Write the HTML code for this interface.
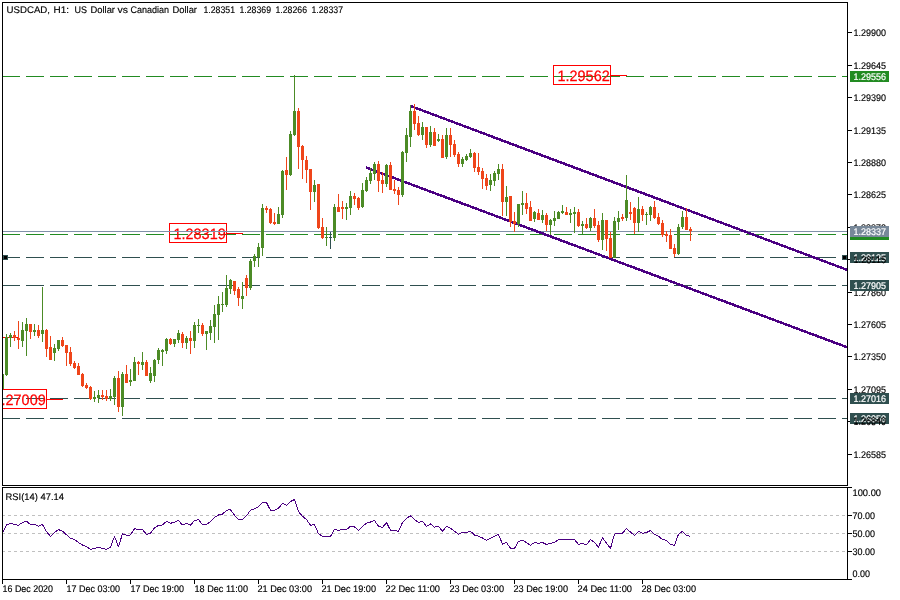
<!DOCTYPE html>
<html><head><meta charset="utf-8"><title>USDCAD H1</title>
<style>html,body{margin:0;padding:0;background:#fff;}body{width:900px;height:600px;overflow:hidden;font-family:"Liberation Sans",sans-serif;}</style>
</head><body>
<svg width="900" height="600" viewBox="0 0 900 600" style="display:block;will-change:transform;transform:translateZ(0)">
<rect x="0" y="0" width="900" height="600" fill="#ffffff"/>
<defs><clipPath id="cm"><rect x="3" y="3" width="844" height="482"/></clipPath><clipPath id="cr"><rect x="3" y="488" width="844" height="91"/></clipPath></defs>
<g shape-rendering="crispEdges">
<g clip-path="url(#cm)">
<line x1="2" y1="76.5" x2="848" y2="76.5" stroke="#228b22" stroke-width="1" stroke-dasharray="18 6"/>
<line x1="2" y1="234.5" x2="848" y2="234.5" stroke="#228b22" stroke-width="1" stroke-dasharray="18 6"/>
<line x1="2" y1="257.5" x2="848" y2="257.5" stroke="#2f4f4f" stroke-width="1" stroke-dasharray="18 6"/>
<line x1="2" y1="285.5" x2="848" y2="285.5" stroke="#2f4f4f" stroke-width="1" stroke-dasharray="18 6"/>
<line x1="2" y1="398.5" x2="848" y2="398.5" stroke="#2f4f4f" stroke-width="1" stroke-dasharray="18 6"/>
<line x1="2" y1="418.5" x2="848" y2="418.5" stroke="#2f4f4f" stroke-width="1" stroke-dasharray="18 6"/>
</g>
</g>
<g shape-rendering="crispEdges" clip-path="url(#cm)">
<rect x="169.5" y="223.5" width="57" height="19" fill="none" stroke="#ff0000" stroke-width="1"/>
<rect x="227" y="233" width="16" height="1" fill="#ff0000"/>
<rect x="553.5" y="65.5" width="57" height="19" fill="none" stroke="#ff0000" stroke-width="1"/>
<rect x="611" y="75" width="16" height="1" fill="#ff0000"/>
<rect x="-10.5" y="389.5" width="57" height="19" fill="none" stroke="#ff0000" stroke-width="1"/>
<rect x="47" y="399" width="16" height="1" fill="#ff0000"/>
<rect x="3" y="337" width="16" height="1" fill="#ff0000"/>
<rect x="3" y="255" width="5" height="5" fill="#2f4f4f"/>
<rect x="4" y="256" width="3" height="3" fill="#000"/>
<rect x="842" y="255" width="5" height="5" fill="#2f4f4f"/>
<rect x="843" y="256" width="3" height="3" fill="#000"/>
</g>
<g clip-path="url(#cm)" font-family="Liberation Sans, sans-serif" font-size="15" fill="#ff0000" stroke="#ff0000" stroke-width="0.25" style="text-rendering:geometricPrecision">
<text x="173.5" y="239" textLength="52.2" lengthAdjust="spacingAndGlyphs">1.28319</text>
<text x="557.5" y="81" textLength="52.2" lengthAdjust="spacingAndGlyphs">1.29562</text>
<text x="-6.5" y="405" textLength="52.2" lengthAdjust="spacingAndGlyphs">1.27009</text>
</g>
<g shape-rendering="crispEdges">
<g clip-path="url(#cm)">
<rect x="3" y="231" width="844" height="1" fill="#8090a8"/>
<g stroke="#4b0082" stroke-width="2.5" stroke-linecap="butt">
<line x1="411" y1="106.2" x2="848" y2="270.2"/>
<line x1="366" y1="167.5" x2="848" y2="347.6"/>
</g>
<rect x="3" y="374" width="1" height="15" fill="#4c8b26"/>
<rect x="6" y="334" width="1" height="42" fill="#4c8b26"/>
<rect x="5" y="337" width="3" height="38" fill="#4c8b26"/>
<rect x="10" y="333" width="1" height="14" fill="#4c8b26"/>
<rect x="9" y="335" width="3" height="3" fill="#4c8b26"/>
<rect x="14" y="331" width="1" height="10" fill="#ef451a"/>
<rect x="13" y="335" width="3" height="3" fill="#ef451a"/>
<rect x="18" y="321" width="1" height="28" fill="#ef451a"/>
<rect x="17" y="338" width="3" height="2" fill="#ef451a"/>
<rect x="22" y="322" width="1" height="25" fill="#4c8b26"/>
<rect x="21" y="330" width="3" height="11" fill="#4c8b26"/>
<rect x="26" y="318" width="1" height="38" fill="#4c8b26"/>
<rect x="25" y="324" width="3" height="7" fill="#4c8b26"/>
<rect x="30" y="324" width="1" height="15" fill="#ef451a"/>
<rect x="29" y="324" width="3" height="8" fill="#ef451a"/>
<rect x="34" y="324" width="1" height="12" fill="#4c8b26"/>
<rect x="33" y="330" width="3" height="2" fill="#4c8b26"/>
<rect x="38" y="325" width="1" height="13" fill="#ef451a"/>
<rect x="37" y="330" width="3" height="6" fill="#ef451a"/>
<rect x="42" y="287" width="1" height="55" fill="#4c8b26"/>
<rect x="41" y="330" width="3" height="4" fill="#4c8b26"/>
<rect x="46" y="329" width="1" height="28" fill="#ef451a"/>
<rect x="45" y="330" width="3" height="19" fill="#ef451a"/>
<rect x="50" y="336" width="1" height="24" fill="#ef451a"/>
<rect x="49" y="347" width="3" height="13" fill="#ef451a"/>
<rect x="54" y="344" width="1" height="17" fill="#4c8b26"/>
<rect x="53" y="348" width="3" height="5" fill="#4c8b26"/>
<rect x="58" y="340" width="1" height="11" fill="#4c8b26"/>
<rect x="57" y="340" width="3" height="9" fill="#4c8b26"/>
<rect x="62" y="337" width="1" height="10" fill="#ef451a"/>
<rect x="61" y="340" width="3" height="6" fill="#ef451a"/>
<rect x="66" y="345" width="1" height="21" fill="#ef451a"/>
<rect x="65" y="345" width="3" height="8" fill="#ef451a"/>
<rect x="70" y="347" width="1" height="19" fill="#ef451a"/>
<rect x="69" y="352" width="3" height="12" fill="#ef451a"/>
<rect x="74" y="361" width="1" height="8" fill="#ef451a"/>
<rect x="73" y="363" width="3" height="5" fill="#ef451a"/>
<rect x="78" y="363" width="1" height="12" fill="#ef451a"/>
<rect x="77" y="366" width="3" height="9" fill="#ef451a"/>
<rect x="82" y="373" width="1" height="14" fill="#ef451a"/>
<rect x="81" y="374" width="3" height="12" fill="#ef451a"/>
<rect x="86" y="383" width="1" height="6" fill="#ef451a"/>
<rect x="85" y="385" width="3" height="3" fill="#ef451a"/>
<rect x="90" y="386" width="1" height="14" fill="#ef451a"/>
<rect x="89" y="387" width="3" height="12" fill="#ef451a"/>
<rect x="94" y="391" width="1" height="11" fill="#4c8b26"/>
<rect x="93" y="397" width="3" height="2" fill="#4c8b26"/>
<rect x="98" y="390" width="1" height="13" fill="#4c8b26"/>
<rect x="97" y="395" width="3" height="3" fill="#4c8b26"/>
<rect x="102" y="390" width="1" height="10" fill="#ef451a"/>
<rect x="101" y="395" width="3" height="2" fill="#ef451a"/>
<rect x="106" y="390" width="1" height="11" fill="#ef451a"/>
<rect x="105" y="396" width="3" height="3" fill="#ef451a"/>
<rect x="110" y="389" width="1" height="12" fill="#4c8b26"/>
<rect x="109" y="396" width="3" height="3" fill="#4c8b26"/>
<rect x="114" y="376" width="1" height="29" fill="#4c8b26"/>
<rect x="113" y="378" width="3" height="19" fill="#4c8b26"/>
<rect x="118" y="371" width="1" height="41" fill="#ef451a"/>
<rect x="117" y="378" width="3" height="29" fill="#ef451a"/>
<rect x="122" y="372" width="1" height="44" fill="#4c8b26"/>
<rect x="121" y="374" width="3" height="33" fill="#4c8b26"/>
<rect x="126" y="365" width="1" height="18" fill="#ef451a"/>
<rect x="125" y="374" width="3" height="9" fill="#ef451a"/>
<rect x="130" y="369" width="1" height="17" fill="#4c8b26"/>
<rect x="129" y="380" width="3" height="2" fill="#4c8b26"/>
<rect x="134" y="357" width="1" height="24" fill="#4c8b26"/>
<rect x="133" y="362" width="3" height="19" fill="#4c8b26"/>
<rect x="138" y="361" width="1" height="14" fill="#ef451a"/>
<rect x="137" y="362" width="3" height="2" fill="#ef451a"/>
<rect x="142" y="352" width="1" height="18" fill="#4c8b26"/>
<rect x="141" y="362" width="3" height="3" fill="#4c8b26"/>
<rect x="146" y="360" width="1" height="16" fill="#ef451a"/>
<rect x="145" y="362" width="3" height="14" fill="#ef451a"/>
<rect x="150" y="367" width="1" height="16" fill="#4c8b26"/>
<rect x="149" y="373" width="3" height="8" fill="#4c8b26"/>
<rect x="154" y="359" width="1" height="23" fill="#4c8b26"/>
<rect x="153" y="360" width="3" height="16" fill="#4c8b26"/>
<rect x="158" y="348" width="1" height="16" fill="#4c8b26"/>
<rect x="157" y="350" width="3" height="10" fill="#4c8b26"/>
<rect x="162" y="349" width="1" height="17" fill="#4c8b26"/>
<rect x="161" y="350" width="3" height="2" fill="#4c8b26"/>
<rect x="166" y="338" width="1" height="16" fill="#4c8b26"/>
<rect x="165" y="339" width="3" height="12" fill="#4c8b26"/>
<rect x="170" y="338" width="1" height="7" fill="#ef451a"/>
<rect x="169" y="339" width="3" height="5" fill="#ef451a"/>
<rect x="174" y="339" width="1" height="8" fill="#4c8b26"/>
<rect x="173" y="339" width="3" height="5" fill="#4c8b26"/>
<rect x="178" y="330" width="1" height="13" fill="#4c8b26"/>
<rect x="177" y="333" width="3" height="7" fill="#4c8b26"/>
<rect x="182" y="332" width="1" height="16" fill="#ef451a"/>
<rect x="181" y="334" width="3" height="9" fill="#ef451a"/>
<rect x="186" y="336" width="1" height="13" fill="#4c8b26"/>
<rect x="185" y="338" width="3" height="5" fill="#4c8b26"/>
<rect x="190" y="331" width="1" height="23" fill="#ef451a"/>
<rect x="189" y="338" width="3" height="3" fill="#ef451a"/>
<rect x="194" y="322" width="1" height="26" fill="#4c8b26"/>
<rect x="193" y="325" width="3" height="16" fill="#4c8b26"/>
<rect x="198" y="319" width="1" height="14" fill="#4c8b26"/>
<rect x="197" y="325" width="3" height="1" fill="#4c8b26"/>
<rect x="202" y="323" width="1" height="13" fill="#ef451a"/>
<rect x="201" y="325" width="3" height="9" fill="#ef451a"/>
<rect x="206" y="331" width="1" height="19" fill="#4c8b26"/>
<rect x="205" y="331" width="3" height="3" fill="#4c8b26"/>
<rect x="210" y="320" width="1" height="20" fill="#4c8b26"/>
<rect x="209" y="326" width="3" height="7" fill="#4c8b26"/>
<rect x="214" y="305" width="1" height="38" fill="#4c8b26"/>
<rect x="213" y="314" width="3" height="13" fill="#4c8b26"/>
<rect x="218" y="296" width="1" height="44" fill="#4c8b26"/>
<rect x="217" y="304" width="3" height="11" fill="#4c8b26"/>
<rect x="222" y="292" width="1" height="20" fill="#4c8b26"/>
<rect x="221" y="304" width="3" height="1" fill="#4c8b26"/>
<rect x="226" y="275" width="1" height="32" fill="#4c8b26"/>
<rect x="225" y="288" width="3" height="17" fill="#4c8b26"/>
<rect x="230" y="279" width="1" height="15" fill="#4c8b26"/>
<rect x="229" y="280" width="3" height="9" fill="#4c8b26"/>
<rect x="234" y="281" width="1" height="14" fill="#ef451a"/>
<rect x="233" y="281" width="3" height="10" fill="#ef451a"/>
<rect x="238" y="287" width="1" height="19" fill="#ef451a"/>
<rect x="237" y="289" width="3" height="9" fill="#ef451a"/>
<rect x="242" y="282" width="1" height="27" fill="#4c8b26"/>
<rect x="241" y="296" width="3" height="3" fill="#4c8b26"/>
<rect x="246" y="275" width="1" height="21" fill="#ef451a"/>
<rect x="245" y="278" width="3" height="10" fill="#ef451a"/>
<rect x="250" y="259" width="1" height="31" fill="#4c8b26"/>
<rect x="249" y="261" width="3" height="27" fill="#4c8b26"/>
<rect x="254" y="254" width="1" height="13" fill="#4c8b26"/>
<rect x="253" y="256" width="3" height="5" fill="#4c8b26"/>
<rect x="258" y="243" width="1" height="24" fill="#4c8b26"/>
<rect x="257" y="247" width="3" height="10" fill="#4c8b26"/>
<rect x="262" y="204" width="1" height="52" fill="#4c8b26"/>
<rect x="261" y="208" width="3" height="40" fill="#4c8b26"/>
<rect x="266" y="206" width="1" height="7" fill="#ef451a"/>
<rect x="265" y="208" width="3" height="2" fill="#ef451a"/>
<rect x="270" y="208" width="1" height="16" fill="#ef451a"/>
<rect x="269" y="209" width="3" height="14" fill="#ef451a"/>
<rect x="274" y="213" width="1" height="12" fill="#ef451a"/>
<rect x="273" y="222" width="3" height="2" fill="#ef451a"/>
<rect x="278" y="207" width="1" height="17" fill="#4c8b26"/>
<rect x="277" y="214" width="3" height="10" fill="#4c8b26"/>
<rect x="282" y="170" width="1" height="48" fill="#4c8b26"/>
<rect x="281" y="171" width="3" height="44" fill="#4c8b26"/>
<rect x="286" y="157" width="1" height="33" fill="#ef451a"/>
<rect x="285" y="170" width="3" height="5" fill="#ef451a"/>
<rect x="290" y="131" width="1" height="45" fill="#4c8b26"/>
<rect x="289" y="134" width="3" height="41" fill="#4c8b26"/>
<rect x="294" y="75" width="1" height="61" fill="#4c8b26"/>
<rect x="293" y="111" width="3" height="24" fill="#4c8b26"/>
<rect x="298" y="108" width="1" height="61" fill="#ef451a"/>
<rect x="297" y="111" width="3" height="36" fill="#ef451a"/>
<rect x="302" y="145" width="1" height="34" fill="#ef451a"/>
<rect x="301" y="146" width="3" height="14" fill="#ef451a"/>
<rect x="306" y="156" width="1" height="27" fill="#ef451a"/>
<rect x="305" y="160" width="3" height="10" fill="#ef451a"/>
<rect x="310" y="169" width="1" height="41" fill="#ef451a"/>
<rect x="309" y="169" width="3" height="23" fill="#ef451a"/>
<rect x="314" y="180" width="1" height="22" fill="#4c8b26"/>
<rect x="313" y="185" width="3" height="7" fill="#4c8b26"/>
<rect x="318" y="184" width="1" height="45" fill="#ef451a"/>
<rect x="317" y="184" width="3" height="44" fill="#ef451a"/>
<rect x="322" y="218" width="1" height="21" fill="#ef451a"/>
<rect x="321" y="227" width="3" height="11" fill="#ef451a"/>
<rect x="326" y="227" width="1" height="19" fill="#4c8b26"/>
<rect x="325" y="237" width="3" height="1" fill="#4c8b26"/>
<rect x="330" y="232" width="1" height="17" fill="#2f4f4f"/>
<rect x="329" y="237" width="3" height="1" fill="#2f4f4f"/>
<rect x="334" y="204" width="1" height="37" fill="#4c8b26"/>
<rect x="333" y="207" width="3" height="31" fill="#4c8b26"/>
<rect x="338" y="194" width="1" height="18" fill="#ef451a"/>
<rect x="337" y="207" width="3" height="5" fill="#ef451a"/>
<rect x="342" y="201" width="1" height="18" fill="#ef451a"/>
<rect x="341" y="207" width="3" height="2" fill="#ef451a"/>
<rect x="346" y="203" width="1" height="17" fill="#4c8b26"/>
<rect x="345" y="207" width="3" height="2" fill="#4c8b26"/>
<rect x="350" y="191" width="1" height="24" fill="#4c8b26"/>
<rect x="349" y="196" width="3" height="12" fill="#4c8b26"/>
<rect x="354" y="193" width="1" height="12" fill="#ef451a"/>
<rect x="353" y="196" width="3" height="3" fill="#ef451a"/>
<rect x="358" y="197" width="1" height="13" fill="#ef451a"/>
<rect x="357" y="198" width="3" height="10" fill="#ef451a"/>
<rect x="362" y="183" width="1" height="25" fill="#4c8b26"/>
<rect x="361" y="190" width="3" height="17" fill="#4c8b26"/>
<rect x="366" y="177" width="1" height="15" fill="#4c8b26"/>
<rect x="365" y="180" width="3" height="11" fill="#4c8b26"/>
<rect x="370" y="168" width="1" height="16" fill="#4c8b26"/>
<rect x="369" y="173" width="3" height="8" fill="#4c8b26"/>
<rect x="374" y="162" width="1" height="18" fill="#4c8b26"/>
<rect x="373" y="164" width="3" height="10" fill="#4c8b26"/>
<rect x="378" y="161" width="1" height="31" fill="#ef451a"/>
<rect x="377" y="164" width="3" height="17" fill="#ef451a"/>
<rect x="382" y="172" width="1" height="21" fill="#ef451a"/>
<rect x="381" y="180" width="3" height="4" fill="#ef451a"/>
<rect x="386" y="164" width="1" height="23" fill="#4c8b26"/>
<rect x="385" y="165" width="3" height="19" fill="#4c8b26"/>
<rect x="390" y="162" width="1" height="28" fill="#ef451a"/>
<rect x="389" y="165" width="3" height="25" fill="#ef451a"/>
<rect x="394" y="180" width="1" height="14" fill="#ef451a"/>
<rect x="393" y="189" width="3" height="2" fill="#ef451a"/>
<rect x="398" y="187" width="1" height="18" fill="#ef451a"/>
<rect x="397" y="190" width="3" height="5" fill="#ef451a"/>
<rect x="402" y="151" width="1" height="46" fill="#4c8b26"/>
<rect x="401" y="152" width="3" height="43" fill="#4c8b26"/>
<rect x="406" y="128" width="1" height="34" fill="#4c8b26"/>
<rect x="405" y="135" width="3" height="18" fill="#4c8b26"/>
<rect x="410" y="105" width="1" height="42" fill="#4c8b26"/>
<rect x="409" y="111" width="3" height="26" fill="#4c8b26"/>
<rect x="414" y="104" width="1" height="26" fill="#ef451a"/>
<rect x="413" y="111" width="3" height="13" fill="#ef451a"/>
<rect x="418" y="116" width="1" height="20" fill="#ef451a"/>
<rect x="417" y="123" width="3" height="12" fill="#ef451a"/>
<rect x="422" y="122" width="1" height="18" fill="#4c8b26"/>
<rect x="421" y="127" width="3" height="8" fill="#4c8b26"/>
<rect x="426" y="127" width="1" height="21" fill="#ef451a"/>
<rect x="425" y="127" width="3" height="18" fill="#ef451a"/>
<rect x="430" y="126" width="1" height="21" fill="#4c8b26"/>
<rect x="429" y="132" width="3" height="13" fill="#4c8b26"/>
<rect x="434" y="128" width="1" height="18" fill="#ef451a"/>
<rect x="433" y="132" width="3" height="14" fill="#ef451a"/>
<rect x="438" y="134" width="1" height="8" fill="#4c8b26"/>
<rect x="437" y="139" width="3" height="2" fill="#4c8b26"/>
<rect x="442" y="135" width="1" height="23" fill="#ef451a"/>
<rect x="441" y="139" width="3" height="19" fill="#ef451a"/>
<rect x="446" y="128" width="1" height="31" fill="#4c8b26"/>
<rect x="445" y="135" width="3" height="22" fill="#4c8b26"/>
<rect x="450" y="128" width="1" height="29" fill="#ef451a"/>
<rect x="449" y="135" width="3" height="10" fill="#ef451a"/>
<rect x="454" y="140" width="1" height="17" fill="#ef451a"/>
<rect x="453" y="144" width="3" height="11" fill="#ef451a"/>
<rect x="458" y="152" width="1" height="15" fill="#ef451a"/>
<rect x="457" y="154" width="3" height="10" fill="#ef451a"/>
<rect x="462" y="157" width="1" height="10" fill="#4c8b26"/>
<rect x="461" y="159" width="3" height="5" fill="#4c8b26"/>
<rect x="466" y="154" width="1" height="7" fill="#4c8b26"/>
<rect x="465" y="156" width="3" height="4" fill="#4c8b26"/>
<rect x="470" y="149" width="1" height="9" fill="#4c8b26"/>
<rect x="469" y="153" width="3" height="4" fill="#4c8b26"/>
<rect x="474" y="152" width="1" height="20" fill="#ef451a"/>
<rect x="473" y="153" width="3" height="15" fill="#ef451a"/>
<rect x="478" y="153" width="1" height="22" fill="#ef451a"/>
<rect x="477" y="167" width="3" height="5" fill="#ef451a"/>
<rect x="482" y="168" width="1" height="21" fill="#ef451a"/>
<rect x="481" y="171" width="3" height="8" fill="#ef451a"/>
<rect x="486" y="174" width="1" height="16" fill="#ef451a"/>
<rect x="485" y="178" width="3" height="8" fill="#ef451a"/>
<rect x="490" y="174" width="1" height="17" fill="#4c8b26"/>
<rect x="489" y="180" width="3" height="5" fill="#4c8b26"/>
<rect x="494" y="171" width="1" height="15" fill="#4c8b26"/>
<rect x="493" y="173" width="3" height="8" fill="#4c8b26"/>
<rect x="498" y="164" width="1" height="16" fill="#4c8b26"/>
<rect x="497" y="169" width="3" height="5" fill="#4c8b26"/>
<rect x="502" y="164" width="1" height="52" fill="#ef451a"/>
<rect x="501" y="169" width="3" height="33" fill="#ef451a"/>
<rect x="506" y="186" width="1" height="30" fill="#4c8b26"/>
<rect x="505" y="197" width="3" height="5" fill="#4c8b26"/>
<rect x="510" y="196" width="1" height="31" fill="#ef451a"/>
<rect x="509" y="196" width="3" height="26" fill="#ef451a"/>
<rect x="514" y="212" width="1" height="20" fill="#ef451a"/>
<rect x="513" y="221" width="3" height="3" fill="#ef451a"/>
<rect x="518" y="204" width="1" height="23" fill="#4c8b26"/>
<rect x="517" y="204" width="3" height="20" fill="#4c8b26"/>
<rect x="522" y="191" width="1" height="24" fill="#4c8b26"/>
<rect x="521" y="203" width="3" height="2" fill="#4c8b26"/>
<rect x="526" y="193" width="1" height="21" fill="#ef451a"/>
<rect x="525" y="203" width="3" height="6" fill="#ef451a"/>
<rect x="530" y="201" width="1" height="20" fill="#ef451a"/>
<rect x="529" y="207" width="3" height="14" fill="#ef451a"/>
<rect x="534" y="211" width="1" height="11" fill="#4c8b26"/>
<rect x="533" y="212" width="3" height="7" fill="#4c8b26"/>
<rect x="538" y="209" width="1" height="11" fill="#ef451a"/>
<rect x="537" y="213" width="3" height="7" fill="#ef451a"/>
<rect x="542" y="210" width="1" height="13" fill="#4c8b26"/>
<rect x="541" y="215" width="3" height="5" fill="#4c8b26"/>
<rect x="546" y="213" width="1" height="18" fill="#ef451a"/>
<rect x="545" y="215" width="3" height="10" fill="#ef451a"/>
<rect x="550" y="219" width="1" height="16" fill="#4c8b26"/>
<rect x="549" y="220" width="3" height="5" fill="#4c8b26"/>
<rect x="554" y="211" width="1" height="15" fill="#4c8b26"/>
<rect x="553" y="218" width="3" height="3" fill="#4c8b26"/>
<rect x="558" y="211" width="1" height="8" fill="#4c8b26"/>
<rect x="557" y="212" width="3" height="7" fill="#4c8b26"/>
<rect x="562" y="205" width="1" height="9" fill="#4c8b26"/>
<rect x="561" y="211" width="3" height="2" fill="#4c8b26"/>
<rect x="566" y="207" width="1" height="8" fill="#ef451a"/>
<rect x="565" y="212" width="3" height="3" fill="#ef451a"/>
<rect x="570" y="209" width="1" height="14" fill="#4c8b26"/>
<rect x="569" y="213" width="3" height="2" fill="#4c8b26"/>
<rect x="574" y="207" width="1" height="26" fill="#4c8b26"/>
<rect x="573" y="212" width="3" height="2" fill="#4c8b26"/>
<rect x="578" y="209" width="1" height="18" fill="#ef451a"/>
<rect x="577" y="212" width="3" height="14" fill="#ef451a"/>
<rect x="582" y="221" width="1" height="13" fill="#4c8b26"/>
<rect x="581" y="224" width="3" height="2" fill="#4c8b26"/>
<rect x="586" y="218" width="1" height="11" fill="#ef451a"/>
<rect x="585" y="224" width="3" height="4" fill="#ef451a"/>
<rect x="590" y="217" width="1" height="14" fill="#4c8b26"/>
<rect x="589" y="218" width="3" height="10" fill="#4c8b26"/>
<rect x="594" y="209" width="1" height="19" fill="#ef451a"/>
<rect x="593" y="218" width="3" height="8" fill="#ef451a"/>
<rect x="598" y="221" width="1" height="21" fill="#ef451a"/>
<rect x="597" y="225" width="3" height="15" fill="#ef451a"/>
<rect x="602" y="213" width="1" height="37" fill="#4c8b26"/>
<rect x="601" y="220" width="3" height="20" fill="#4c8b26"/>
<rect x="606" y="220" width="1" height="31" fill="#ef451a"/>
<rect x="605" y="220" width="3" height="19" fill="#ef451a"/>
<rect x="610" y="232" width="1" height="26" fill="#ef451a"/>
<rect x="609" y="238" width="3" height="20" fill="#ef451a"/>
<rect x="614" y="217" width="1" height="41" fill="#4c8b26"/>
<rect x="613" y="221" width="3" height="37" fill="#4c8b26"/>
<rect x="618" y="211" width="1" height="19" fill="#4c8b26"/>
<rect x="617" y="218" width="3" height="4" fill="#4c8b26"/>
<rect x="622" y="214" width="1" height="7" fill="#ef451a"/>
<rect x="621" y="217" width="3" height="2" fill="#ef451a"/>
<rect x="626" y="175" width="1" height="46" fill="#4c8b26"/>
<rect x="625" y="200" width="3" height="18" fill="#4c8b26"/>
<rect x="630" y="202" width="1" height="18" fill="#ef451a"/>
<rect x="629" y="212" width="3" height="2" fill="#ef451a"/>
<rect x="634" y="207" width="1" height="27" fill="#ef451a"/>
<rect x="633" y="208" width="3" height="15" fill="#ef451a"/>
<rect x="638" y="197" width="1" height="35" fill="#4c8b26"/>
<rect x="637" y="209" width="3" height="14" fill="#4c8b26"/>
<rect x="642" y="206" width="1" height="15" fill="#ef451a"/>
<rect x="641" y="209" width="3" height="6" fill="#ef451a"/>
<rect x="646" y="212" width="1" height="13" fill="#4c8b26"/>
<rect x="645" y="214" width="3" height="1" fill="#4c8b26"/>
<rect x="650" y="206" width="1" height="15" fill="#4c8b26"/>
<rect x="649" y="207" width="3" height="8" fill="#4c8b26"/>
<rect x="654" y="201" width="1" height="18" fill="#ef451a"/>
<rect x="653" y="207" width="3" height="11" fill="#ef451a"/>
<rect x="658" y="213" width="1" height="12" fill="#ef451a"/>
<rect x="657" y="217" width="3" height="7" fill="#ef451a"/>
<rect x="662" y="220" width="1" height="17" fill="#ef451a"/>
<rect x="661" y="223" width="3" height="12" fill="#ef451a"/>
<rect x="666" y="231" width="1" height="11" fill="#ef451a"/>
<rect x="665" y="234" width="3" height="2" fill="#ef451a"/>
<rect x="670" y="229" width="1" height="20" fill="#ef451a"/>
<rect x="669" y="235" width="3" height="14" fill="#ef451a"/>
<rect x="674" y="244" width="1" height="13" fill="#ef451a"/>
<rect x="673" y="248" width="3" height="6" fill="#ef451a"/>
<rect x="678" y="224" width="1" height="31" fill="#4c8b26"/>
<rect x="677" y="227" width="3" height="27" fill="#4c8b26"/>
<rect x="682" y="211" width="1" height="18" fill="#4c8b26"/>
<rect x="681" y="217" width="3" height="10" fill="#4c8b26"/>
<rect x="686" y="208" width="1" height="22" fill="#ef451a"/>
<rect x="685" y="217" width="3" height="13" fill="#ef451a"/>
<rect x="690" y="227" width="1" height="14" fill="#ef451a"/>
<rect x="689" y="229" width="3" height="2" fill="#ef451a"/>
</g>
</g>
<g shape-rendering="crispEdges" clip-path="url(#cr)">
<line x1="2" y1="515.5" x2="848" y2="515.5" stroke="#c0c0c0" stroke-width="1" stroke-dasharray="3 3"/>
<line x1="2" y1="533.5" x2="848" y2="533.5" stroke="#c0c0c0" stroke-width="1" stroke-dasharray="3 3"/>
<line x1="2" y1="551.5" x2="848" y2="551.5" stroke="#c0c0c0" stroke-width="1" stroke-dasharray="3 3"/>
</g>
<polyline clip-path="url(#cr)" points="2.5,533.3 6.5,525.0 10.5,523.3 14.5,524.5 18.5,525.3 22.5,522.5 26.5,521.3 30.5,524.5 34.5,524.5 38.5,526.2 42.5,524.5 46.5,531.7 50.5,536.3 54.5,532.5 58.5,529.5 62.5,531.3 66.5,534.7 70.5,538.3 74.5,539.5 78.5,542.5 82.5,545.0 86.5,546.7 90.5,549.5 94.5,548.3 98.5,547.5 102.5,548.3 106.5,549.5 110.5,547.2 114.5,536.3 118.5,546.7 122.5,533.8 126.5,535.3 130.5,535.0 134.5,528.7 138.5,529.5 142.5,529.5 146.5,534.4 150.5,533.2 154.5,528.0 158.5,525.3 162.5,525.0 166.5,521.3 170.5,523.3 174.5,522.2 178.5,520.5 182.5,525.0 186.5,523.3 190.5,525.3 194.5,520.5 198.5,519.7 202.5,524.5 206.5,524.2 210.5,521.7 214.5,517.5 218.5,515.0 222.5,514.2 226.5,510.3 230.5,509.7 234.5,515.3 238.5,519.5 242.5,519.2 246.5,515.8 250.5,510.3 254.5,508.8 258.5,506.7 262.5,502.5 266.5,502.5 270.5,510.3 274.5,510.3 278.5,508.3 282.5,503.3 286.5,505.3 290.5,501.5 294.5,499.5 298.5,511.7 302.5,516.3 306.5,519.5 310.5,525.3 314.5,524.5 318.5,533.8 322.5,536.3 326.5,536.3 330.5,536.3 334.5,529.5 338.5,530.3 342.5,529.5 346.5,529.5 350.5,526.3 354.5,527.0 358.5,530.3 362.5,526.3 366.5,523.3 370.5,522.0 374.5,520.5 378.5,526.3 382.5,527.5 386.5,522.5 390.5,530.3 394.5,530.3 398.5,531.3 402.5,522.5 406.5,518.3 410.5,515.8 414.5,519.7 418.5,522.5 422.5,521.3 426.5,526.3 430.5,524.0 434.5,527.2 438.5,526.3 442.5,531.3 446.5,526.3 450.5,528.3 454.5,531.3 458.5,534.2 462.5,532.5 466.5,532.5 470.5,531.3 474.5,535.0 478.5,536.3 482.5,538.0 486.5,540.3 490.5,538.3 494.5,536.3 498.5,534.5 502.5,544.2 506.5,542.5 510.5,548.3 514.5,548.3 518.5,541.3 522.5,540.3 526.5,542.5 530.5,545.3 534.5,542.5 538.5,543.3 542.5,542.5 546.5,544.5 550.5,543.3 554.5,542.5 558.5,539.5 562.5,539.5 566.5,539.5 570.5,539.5 574.5,539.5 578.5,544.5 582.5,543.3 586.5,545.0 590.5,539.5 594.5,542.5 598.5,547.2 602.5,537.5 606.5,543.3 610.5,548.3 614.5,534.2 618.5,533.3 622.5,533.3 626.5,528.3 630.5,532.2 634.5,535.3 638.5,531.3 642.5,533.3 646.5,532.5 650.5,530.5 654.5,534.2 658.5,536.2 662.5,539.5 666.5,540.3 670.5,544.5 674.5,545.3 678.5,534.2 682.5,531.3 686.5,535.3 690.5,536.3" fill="none" stroke="#4b0082" stroke-width="1" stroke-linejoin="round" shape-rendering="crispEdges"/>
<g shape-rendering="crispEdges" fill="#000">
<rect x="2" y="2" width="846" height="1"/>
<rect x="2" y="2" width="1" height="484"/>
<rect x="2" y="487" width="1" height="97"/>
<rect x="847" y="2" width="1" height="484"/>
<rect x="2" y="485" width="846" height="1"/>
<rect x="2" y="487" width="850" height="1"/>
<rect x="847" y="487" width="1" height="93"/>
<rect x="2" y="579" width="850" height="1"/>
<rect x="848" y="32" width="4" height="1"/>
<rect x="848" y="65" width="4" height="1"/>
<rect x="848" y="97" width="4" height="1"/>
<rect x="848" y="130" width="4" height="1"/>
<rect x="848" y="162" width="4" height="1"/>
<rect x="848" y="194" width="4" height="1"/>
<rect x="848" y="227" width="4" height="1"/>
<rect x="848" y="259" width="4" height="1"/>
<rect x="848" y="292" width="4" height="1"/>
<rect x="848" y="324" width="4" height="1"/>
<rect x="848" y="356" width="4" height="1"/>
<rect x="848" y="389" width="4" height="1"/>
<rect x="848" y="421" width="4" height="1"/>
<rect x="848" y="454" width="4" height="1"/>
<rect x="848" y="515" width="4" height="1"/>
<rect x="848" y="533" width="4" height="1"/>
<rect x="848" y="551" width="4" height="1"/>
<rect x="2" y="580" width="1" height="4"/>
<rect x="66" y="580" width="1" height="4"/>
<rect x="130" y="580" width="1" height="4"/>
<rect x="194" y="580" width="1" height="4"/>
<rect x="258" y="580" width="1" height="4"/>
<rect x="322" y="580" width="1" height="4"/>
<rect x="386" y="580" width="1" height="4"/>
<rect x="450" y="580" width="1" height="4"/>
<rect x="514" y="580" width="1" height="4"/>
<rect x="578" y="580" width="1" height="4"/>
<rect x="642" y="580" width="1" height="4"/>
</g>
<g font-family="Liberation Sans, sans-serif" font-size="9.6" fill="#000" stroke="#000" stroke-width="0.15" style="text-rendering:geometricPrecision">
<text x="853.5" y="36" textLength="32.5" lengthAdjust="spacingAndGlyphs">1.29900</text>
<text x="853.5" y="69" textLength="32.5" lengthAdjust="spacingAndGlyphs">1.29645</text>
<text x="853.5" y="101" textLength="32.5" lengthAdjust="spacingAndGlyphs">1.29390</text>
<text x="853.5" y="134" textLength="32.5" lengthAdjust="spacingAndGlyphs">1.29135</text>
<text x="853.5" y="166" textLength="32.5" lengthAdjust="spacingAndGlyphs">1.28880</text>
<text x="853.5" y="198" textLength="32.5" lengthAdjust="spacingAndGlyphs">1.28625</text>
<text x="853.5" y="231" textLength="32.5" lengthAdjust="spacingAndGlyphs">1.28370</text>
<text x="853.5" y="263" textLength="32.5" lengthAdjust="spacingAndGlyphs">1.28115</text>
<text x="853.5" y="296" textLength="32.5" lengthAdjust="spacingAndGlyphs">1.27860</text>
<text x="853.5" y="328" textLength="32.5" lengthAdjust="spacingAndGlyphs">1.27605</text>
<text x="853.5" y="360" textLength="32.5" lengthAdjust="spacingAndGlyphs">1.27350</text>
<text x="853.5" y="393" textLength="32.5" lengthAdjust="spacingAndGlyphs">1.27095</text>
<text x="853.5" y="425" textLength="32.5" lengthAdjust="spacingAndGlyphs">1.26840</text>
<text x="853.5" y="458" textLength="32.5" lengthAdjust="spacingAndGlyphs">1.26585</text>
</g>
<g shape-rendering="crispEdges">
<rect x="850" y="71" width="39" height="11" fill="#228b22"/>
<rect x="850" y="229" width="39" height="11" fill="#228b22"/>
<rect x="850" y="226" width="39" height="11" fill="#778899"/>
<rect x="850" y="252" width="39" height="11" fill="#2f4f4f"/>
<rect x="850" y="280" width="39" height="11" fill="#2f4f4f"/>
<rect x="850" y="393" width="39" height="11" fill="#2f4f4f"/>
<rect x="850" y="413" width="39" height="11" fill="#2f4f4f"/>
</g>
<g font-family="Liberation Sans, sans-serif" font-size="9.6" fill="#fff" stroke="#fff" stroke-width="0.2" style="text-rendering:geometricPrecision">
<text x="853.5" y="80" textLength="32.5" lengthAdjust="spacingAndGlyphs">1.29556</text>
<text x="853.5" y="235" textLength="32.5" lengthAdjust="spacingAndGlyphs">1.28337</text>
<text x="853.5" y="261" textLength="32.5" lengthAdjust="spacingAndGlyphs">1.28125</text>
<text x="853.5" y="289" textLength="32.5" lengthAdjust="spacingAndGlyphs">1.27905</text>
<text x="853.5" y="402" textLength="32.5" lengthAdjust="spacingAndGlyphs">1.27016</text>
<text x="853.5" y="422" textLength="32.5" lengthAdjust="spacingAndGlyphs">1.26858</text>
</g>
<g font-family="Liberation Sans, sans-serif" font-size="9.6" fill="#000" stroke="#000" stroke-width="0.15" style="text-rendering:geometricPrecision">
<text x="853.5" y="263" textLength="32.5" lengthAdjust="spacingAndGlyphs">1.28115</text>
<text x="853.5" y="424" textLength="32.5" lengthAdjust="spacingAndGlyphs">1.26840</text>
<text x="852.5" y="496" textLength="28.5" lengthAdjust="spacingAndGlyphs">100.00</text>
<text x="852.5" y="519" textLength="22.5" lengthAdjust="spacingAndGlyphs">70.00</text>
<text x="852.5" y="537" textLength="22.5" lengthAdjust="spacingAndGlyphs">50.00</text>
<text x="852.5" y="555" textLength="22.5" lengthAdjust="spacingAndGlyphs">30.00</text>
<text x="852.5" y="577" textLength="17.5" lengthAdjust="spacingAndGlyphs">0.00</text>
<text x="5.5" y="500" textLength="58.5" lengthAdjust="spacingAndGlyphs">RSI(14) 47.14</text>
<text x="6.5" y="13" textLength="43.5" lengthAdjust="spacingAndGlyphs">USDCAD,</text>
<text x="53.5" y="13" textLength="15.5" lengthAdjust="spacingAndGlyphs">H1:</text>
<text x="74.5" y="13" textLength="12.5" lengthAdjust="spacingAndGlyphs">US</text>
<text x="90.5" y="13" textLength="24.5" lengthAdjust="spacingAndGlyphs">Dollar</text>
<text x="117.5" y="13" textLength="10.5" lengthAdjust="spacingAndGlyphs">vs</text>
<text x="130.5" y="13" textLength="38.5" lengthAdjust="spacingAndGlyphs">Canadian</text>
<text x="172.5" y="13" textLength="24.5" lengthAdjust="spacingAndGlyphs">Dollar</text>
<text x="203.5" y="13" textLength="31.5" lengthAdjust="spacingAndGlyphs">1.28351</text>
<text x="239.5" y="13" textLength="31.5" lengthAdjust="spacingAndGlyphs">1.28369</text>
<text x="275.5" y="13" textLength="31.5" lengthAdjust="spacingAndGlyphs">1.28266</text>
<text x="311.5" y="13" textLength="31.5" lengthAdjust="spacingAndGlyphs">1.28337</text>
<text x="2.5" y="592" textLength="50.5" lengthAdjust="spacingAndGlyphs">16 Dec 2020</text>
<text x="66.5" y="592" textLength="53.5" lengthAdjust="spacingAndGlyphs">17 Dec 03:00</text>
<text x="130.5" y="592" textLength="53.5" lengthAdjust="spacingAndGlyphs">17 Dec 19:00</text>
<text x="194.5" y="592" textLength="53.5" lengthAdjust="spacingAndGlyphs">18 Dec 11:00</text>
<text x="257.5" y="592" textLength="54.5" lengthAdjust="spacingAndGlyphs">21 Dec 03:00</text>
<text x="321.5" y="592" textLength="54.5" lengthAdjust="spacingAndGlyphs">21 Dec 19:00</text>
<text x="385.5" y="592" textLength="54.5" lengthAdjust="spacingAndGlyphs">22 Dec 11:00</text>
<text x="449.5" y="592" textLength="54.5" lengthAdjust="spacingAndGlyphs">23 Dec 03:00</text>
<text x="513.5" y="592" textLength="54.5" lengthAdjust="spacingAndGlyphs">23 Dec 19:00</text>
<text x="577.5" y="592" textLength="54.5" lengthAdjust="spacingAndGlyphs">24 Dec 11:00</text>
<text x="641.5" y="592" textLength="54.5" lengthAdjust="spacingAndGlyphs">28 Dec 03:00</text>
</g>
</svg>
</body></html>
